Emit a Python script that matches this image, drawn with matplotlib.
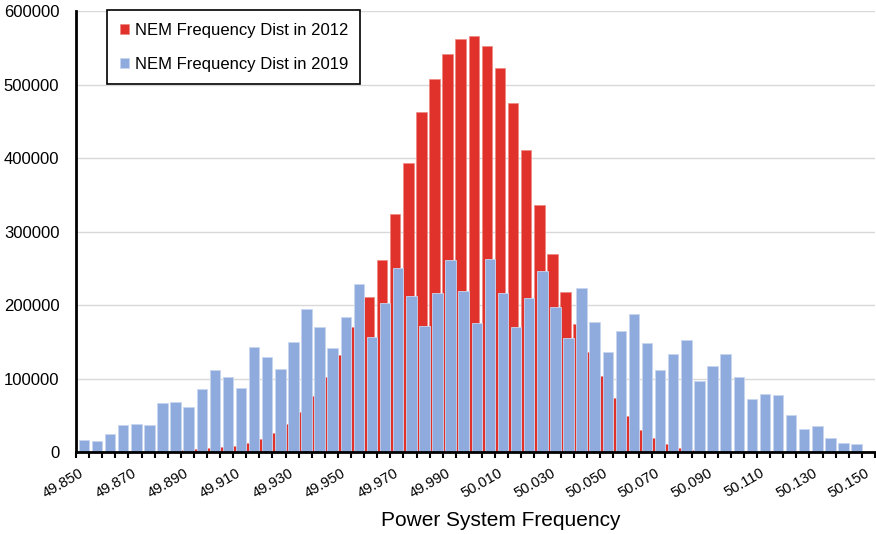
import numpy as np
import matplotlib
matplotlib.use("Agg")
import matplotlib.pyplot as plt
from matplotlib.ticker import FixedLocator, FuncFormatter

plt.rcParams['font.family'] = ['Liberation Sans', 'DejaVu Sans']

# frequency bins, 49.850 .. 50.150 Hz in 0.005 steps
freq_bins = [round(49.850 + 0.005 * i, 3) for i in range(61)]

counts_2012 = [
    0, 0, 0, 0, 0, 0, 0, 0, 3000, 4500,
    5900, 7200, 9000, 13100, 18100, 26700, 38600, 54900, 76700, 102200,
    132600, 170700, 211600, 261000, 323700, 394000, 462700, 508000, 541300, 562700,
    566700, 553000, 522200, 475500, 411400, 337000, 270000, 218000, 174800, 137000,
    103500, 74400, 49500, 30400, 19000, 11800, 6300, 3600, 1200, 0,
    0, 0, 0, 0, 0, 0, 0, 0, 0, 0,
    0,
]

counts_2019 = [
    16800, 15800, 24900, 37600, 38600, 37600, 67200, 68500, 61700, 85800,
    112500, 102600, 88000, 143500, 129400, 113500, 150300, 194300, 169800, 141200,
    184300, 229300, 156700, 203200, 250700, 213000, 172000, 217000, 261600, 219300,
    176000, 262400, 217000, 170700, 210000, 246000, 197500, 155000, 223600, 177500,
    137000, 165300, 187500, 148900, 111700, 133900, 152600, 96700, 117600, 133500,
    102600, 73000, 79800, 78500, 50400, 31300, 35400, 19900, 12700, 10900,
    0,
]

x = np.arange(len(freq_bins))

fig = plt.figure(figsize=(8.76, 5.34), dpi=100)
ax = fig.add_axes([0.0868, 0.153, 0.912, 0.826])

ax.bar(x - 0.13, counts_2012, width=0.8, color='#E0312A', edgecolor='#EE8A82',
       linewidth=0.5, label='NEM Frequency Dist in 2012', zorder=2)
ax.bar(x + 0.10, counts_2019, width=0.8, color='#8FAADC', edgecolor='#C9D6EF',
       linewidth=0.6, label='NEM Frequency Dist in 2019', zorder=3)

ax.set_xlim(-0.5, len(freq_bins) - 0.5)
ax.set_ylim(0, 600000)
ax.set_yticks(np.arange(0, 600001, 100000))
ax.yaxis.set_major_formatter(FuncFormatter(lambda v, p: f'{int(v)}'))
ax.tick_params(axis='y', length=0, pad=12, labelsize=12)
ax.grid(axis='y', color='#D9D9D9', linewidth=1, zorder=0)
ax.set_axisbelow(True)

# labels every 4th bin, short tick marks between bins
ax.set_xticks(x[::4])
ax.set_xticklabels([f'{f:.3f}' for f in freq_bins[::4]], rotation=30,
                   ha='right', va='center', rotation_mode='anchor')
ax.xaxis.set_minor_locator(FixedLocator(np.arange(-0.5, len(freq_bins), 1)))
ax.tick_params(axis='x', which='major', length=0, pad=14, labelsize=10.5)
ax.tick_params(axis='x', which='minor', length=4, width=1.5, color='black',
               direction='out')

for side in ['top', 'right']:
    ax.spines[side].set_visible(False)
for side in ['left', 'bottom']:
    ax.spines[side].set_linewidth(2)
    ax.spines[side].set_color('black')
    ax.spines[side].set_zorder(5)

ax.set_xlabel('Power System Frequency', fontsize=15, va='baseline')
ax.xaxis.set_label_coords(0.532, -0.166)

leg = ax.legend(loc='upper left', bbox_to_anchor=(0.0388, 1.002),
                borderaxespad=0, fontsize=12, frameon=True, fancybox=False,
                edgecolor='black', framealpha=1, handlelength=0.55,
                handleheight=0.55, handletextpad=0.35, labelspacing=1.15,
                borderpad=0.75)
leg.get_frame().set_linewidth(1.2)

fig.savefig('out.png', dpi=100)
